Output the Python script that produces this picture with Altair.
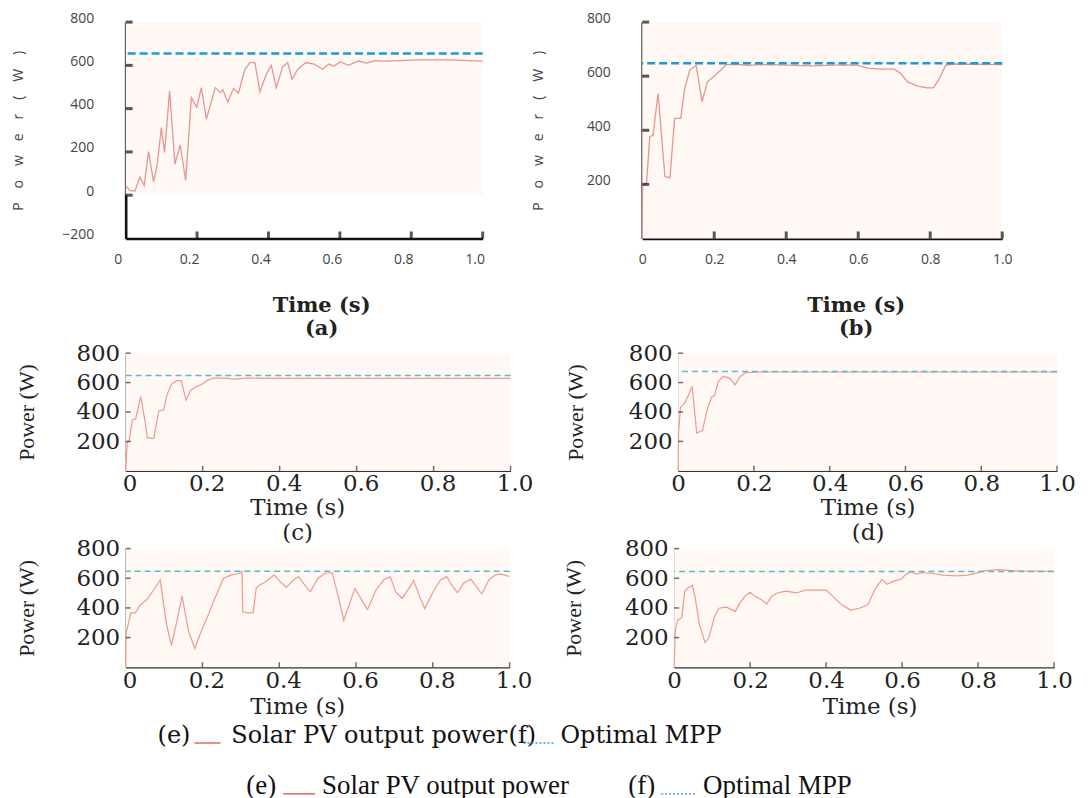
import altair as alt
import pandas as pd

# ---------------- data ----------------
t_a = [0, 0.012, 0.026, 0.04, 0.052, 0.064, 0.078, 0.088, 0.1, 0.109, 0.123, 0.138, 0.153, 0.168, 0.184,
       0.199, 0.212, 0.226, 0.238, 0.251, 0.265, 0.272, 0.286, 0.302, 0.316, 0.334, 0.348, 0.362, 0.376,
       0.394, 0.408, 0.422, 0.44, 0.454, 0.466, 0.482, 0.505, 0.528, 0.552, 0.569, 0.583, 0.601, 0.624,
       0.652, 0.675, 0.698, 0.726, 0.772, 0.818, 0.91, 1.0]
p_a = [44, 22, 19, 83, 44, 201, 63, 136, 313, 197, 482, 144, 232, 68, 451, 406, 497, 351, 421, 497, 474,
       487, 431, 493, 472, 582, 613, 613, 478, 559, 600, 497, 594, 613, 536, 582, 613, 606, 582, 606, 597,
       616, 600, 620, 610, 622, 620, 622, 625, 625, 620]

t_b = [0, 0.001, 0.012, 0.021, 0.03, 0.044, 0.063, 0.077, 0.09, 0.107, 0.118, 0.132, 0.15, 0.166, 0.181,
       0.203, 0.215, 0.234, 0.257, 0.294, 0.331, 0.377, 0.423, 0.469, 0.515, 0.561, 0.598, 0.626, 0.663,
       0.7, 0.718, 0.737, 0.765, 0.792, 0.809, 0.825, 0.843, 0.861, 0.917, 1.0]
p_b = [0, 198, 204, 376, 382, 536, 229, 225, 444, 444, 554, 622, 640, 505, 579, 603, 618, 643, 644, 640,
       643, 642, 640, 638, 640, 642, 640, 630, 626, 626, 610, 579, 563, 557, 557, 591, 640, 645, 644, 643]

t_c = [0, 0.004, 0.009, 0.017, 0.026, 0.039, 0.052, 0.056, 0.066, 0.073, 0.086, 0.099, 0.107, 0.12, 0.133,
       0.144, 0.157, 0.168, 0.181, 0.198, 0.211, 0.228, 0.262, 0.28, 0.314, 0.4, 0.6, 0.8, 1.0]
p_c = [0, 190, 200, 344, 354, 504, 313, 227, 221, 221, 407, 414, 516, 593, 613, 613, 480, 545, 569, 588,
       613, 630, 630, 624, 630, 629, 629, 629, 629]

t_d = [0, 0.001, 0.006, 0.017, 0.025, 0.037, 0.049, 0.055, 0.064, 0.077, 0.088, 0.096, 0.106, 0.119, 0.136,
       0.15, 0.164, 0.179, 0.2, 0.217, 0.3, 0.5, 0.7, 1.0]
p_d = [0, 246, 431, 459, 501, 573, 257, 264, 273, 419, 501, 513, 607, 641, 630, 584, 641, 668, 670, 672,
       672, 672, 672, 672]

t_e = [0, 0.001, 0.007, 0.013, 0.025, 0.038, 0.055, 0.073, 0.09, 0.106, 0.119, 0.132, 0.147, 0.163, 0.18,
       0.196, 0.213, 0.231, 0.255, 0.275, 0.296, 0.303, 0.305, 0.318, 0.332, 0.34, 0.349, 0.362, 0.387,
       0.402, 0.419, 0.432, 0.45, 0.466, 0.481, 0.501, 0.52, 0.538, 0.554, 0.568, 0.582, 0.597, 0.615,
       0.63, 0.652, 0.674, 0.689, 0.703, 0.72, 0.738, 0.75, 0.766, 0.779, 0.801, 0.82, 0.836, 0.849,
       0.864, 0.88, 0.899, 0.91, 0.928, 0.946, 0.963, 0.976, 1.0]
p_e = [0, 226, 294, 367, 367, 419, 457, 521, 589, 294, 147, 294, 480, 249, 125, 238, 340, 457, 600, 623,
       634, 645, 374, 367, 367, 532, 555, 571, 623, 577, 539, 577, 611, 555, 509, 600, 634, 638, 475, 317,
       419, 532, 453, 389, 521, 593, 611, 509, 464, 532, 584, 475, 396, 509, 589, 611, 555, 502, 566, 593,
       555, 494, 589, 623, 629, 612]

t_f = [0, 0.003, 0.009, 0.02, 0.028, 0.037, 0.048, 0.055, 0.066, 0.081, 0.092, 0.106, 0.118, 0.138, 0.161,
       0.173, 0.186, 0.2, 0.213, 0.23, 0.244, 0.256, 0.271, 0.294, 0.322, 0.345, 0.377, 0.4, 0.418, 0.441,
       0.464, 0.487, 0.51, 0.528, 0.547, 0.561, 0.579, 0.597, 0.611, 0.625, 0.639, 0.653, 0.68, 0.708,
       0.744, 0.772, 0.795, 0.818, 0.855, 0.892, 0.928, 1.0]
p_f = [0, 248, 317, 336, 513, 536, 552, 478, 294, 168, 202, 340, 398, 405, 375, 432, 478, 506, 478, 455,
       428, 478, 501, 513, 501, 520, 520, 520, 478, 421, 386, 398, 421, 524, 593, 559, 582, 593, 628, 644,
       628, 639, 632, 621, 616, 621, 635, 651, 658, 651, 649, 646]

mpp = {"a": 655, "b": 648, "c": 648, "d": 676, "e": 648, "f": 646}

x_ticks = [0, 0.2, 0.4, 0.6, 0.8, 1.0]
y_ticks_a = [-200, 0, 200, 400, 600, 800]
y_ticks = [200, 400, 600, 800]

panel_captions = ["(a)", "(b)", "(c)", "(d)"]
x_title = "Time (s)"
y_title_top = "P\u2003o\u2003w\u2003e\u2003r\u2003(\u2003W\u2003)"
y_title_low = "Power (W)"
legend_pv = "Solar PV output power"
legend_mpp = "Optimal MPP"

# ---------------- styles ----------------
RED_TOP = "#e6958f"
RED_LOW = "#ee9a8c"
BLUE_TOP = "#1d9ad6"
BLUE_LOW = "#56bccb"
FILL = "#fff8f4"
LABEL_EXPR = "datum.value == 0 ? '0' : format(datum.value, '.1f')"

one = pd.DataFrame({"k": [0]})


def txt(s, x, y, font, size):
    return alt.Chart(one).mark_text(text=s, align="left", baseline="middle", font=font,
                                    fontSize=size, color="#111").encode(x=alt.value(x), y=alt.value(y))


def seg(x1, x2, y, color, dash):
    return alt.Chart(one).mark_rule(color=color, strokeWidth=1.4, strokeDash=dash).encode(
        x=alt.value(x1), x2=alt.value(x2), y=alt.value(y))


def panel(t, p, m, ydom, yvals, w, h, top, title, tx, ty, lh, ytx, xlo=0, extra=None):
    xs = alt.Scale(domain=[0, 1], nice=False, zero=False)
    ys = alt.Scale(domain=ydom, nice=False, zero=False)
    if top:
        xax = alt.Axis(values=x_ticks, labelExpr=LABEL_EXPR, ticks=False, tickSize=0, grid=False,
                       domainColor="#111", domainWidth=2.6, labelFont="Open Sans", labelFontSize=14,
                       labelColor="#444", labelPadding=14, labelOffset=xlo, labelFlush=False,
                       labelOverlap=False,
                       title=title, titleFont="DejaVu Serif", titleFontWeight="bold",
                       titleFontSize=21, titleColor="#222", titleX=tx, titleY=ty, titleBaseline="top",
                       titleAlign="center", titleLineHeight=lh)
        yax = alt.Axis(values=yvals, ticks=False, tickSize=0, grid=False, domainColor="#111",
                       domainWidth=2.6, labelFont="Open Sans", labelFontSize=14, labelColor="#444",
                       labelPadding=32, labelOffset=-4, labelFlush=False, labelOverlap=False,
                       title=y_title_top, titleFont="Open Sans", titleFontSize=14, titleFontWeight="normal",
                       titleColor="#444", titleX=ytx, titleY=h / 2, titleAngle=270,
                       titleBaseline="middle", titleAlign="center")
        red, blue, lw, bw, dash = RED_TOP, BLUE_TOP, 1.3, 2.4, [8, 4]
        tlen, tthick, tcol = 7, 3, "#111"
    else:
        xax = alt.Axis(values=x_ticks, labelExpr=LABEL_EXPR, ticks=False, tickSize=0, grid=False,
                       domainColor="#333", domainWidth=1.3, labelFont="DejaVu Serif", labelFontSize=23,
                       labelColor="#222", labelPadding=2, labelOffset=xlo, labelFlush=False,
                       labelOverlap=False,
                       title=title, titleFont="DejaVu Serif", titleFontWeight="normal",
                       titleFontSize=23, titleColor="#222", titleX=tx, titleY=ty, titleBaseline="top",
                       titleAlign="center", titleLineHeight=lh)
        yax = alt.Axis(values=yvals, ticks=False, tickSize=0, grid=False, domainColor="#333",
                       domainWidth=1.3, labelFont="DejaVu Serif", labelFontSize=23, labelColor="#222",
                       labelPadding=6, labelFlush=False, labelOverlap=False,
                       title=y_title_low, titleFont="Liberation Serif", titleFontSize=22,
                       titleFontWeight="normal", titleColor="#222", titleX=ytx, titleY=h / 2,
                       titleAngle=270, titleBaseline="middle", titleAlign="center")
        red, blue, lw, bw, dash = RED_LOW, BLUE_LOW, 1.2, 1.5, [6, 4]
        tlen, tthick, tcol = 5, 1.5, "#333"

    X = alt.X("t:Q", scale=xs, axis=xax)
    Y = alt.Y("p:Q", scale=ys, axis=yax)

    bg = alt.Chart(pd.DataFrame({"t": [0], "t2": [1], "p": [0], "p2": [ydom[1]]})).mark_rect(
        color=FILL).encode(x=X, x2="t2", y=Y, y2="p2")
    line = alt.Chart(pd.DataFrame({"t": t, "p": p})).mark_line(
        color=red, strokeWidth=lw).encode(x=X, y=Y)
    rule = alt.Chart(pd.DataFrame({"p": [m]})).mark_rule(
        color=blue, strokeWidth=bw, strokeDash=dash).encode(y=Y)
    yt = alt.Chart(pd.DataFrame({"p": [v for v in yvals if v > ydom[0]]})).mark_tick(
        orient="horizontal", size=tlen, thickness=tthick, color=tcol).encode(
        y=Y, x=alt.value(tlen / 2))
    xt = alt.Chart(pd.DataFrame({"t": x_ticks[1:]})).mark_tick(
        orient="vertical", size=tlen, thickness=tthick, color=tcol).encode(
        x=X, y=alt.value(h - tlen / 2))
    layers = [bg, line, rule, yt, xt] + (extra or [])
    return alt.layer(*layers).properties(width=w, height=h)


# caption / legend lines, drawn under panel (e) (positions relative to its plot area)
F1, S1 = "DejaVu Serif", 24
F2, S2 = "Liberation Serif", 27
legend_layers = [
    txt("(e)", 32, 188, F1, S1), seg(69, 95, 195, "#e06a5c", [1, 0]), txt(legend_pv, 106, 188, F1, S1),
    txt("(f)", 384, 188, F1, S1), seg(399, 430, 195, "#3b9ad8", [2, 2]), txt(legend_mpp, 436, 188, F1, S1),
    txt("(e)", 121, 238, F2, S2), seg(158, 190, 246, "#d9473a", [1, 0]), txt(legend_pv, 197, 238, F2, S2),
    txt("(f)", 504, 238, F2, S2), seg(537, 573, 246, "#2f8fd8", [2, 2]), txt(legend_mpp, 579, 238, F2, S2),
]

pa = panel(t_a, p_a, mpp["a"], [-200, 800], y_ticks_a, 358, 217, True,
           [x_title, panel_captions[0]], 196, 56, 23, -107, xlo=-8)
pb = panel(t_b, p_b, mpp["b"], [0, 800], y_ticks, 361, 217, True,
           [x_title, panel_captions[1]], 214, 56, 23, -104)
pc = panel(t_c, p_c, mpp["c"], [0, 800], y_ticks, 386, 118, False,
           [x_title, panel_captions[2]], 172, 26, 25, -99, xlo=4)
pd_ = panel(t_d, p_d, mpp["d"], [0, 800], y_ticks, 380, 118, False,
            [x_title, panel_captions[3]], 190, 26, 25, -103)
pe = panel(t_e, p_e, mpp["e"], [0, 800], y_ticks, 385, 119, False, x_title, 172, 28, 25, -99, xlo=4,
           extra=legend_layers)
pf = panel(t_f, p_f, mpp["f"], [0, 800], y_ticks, 381, 119, False, x_title, 196, 28, 25, -101)

row1 = alt.hconcat(pa, pb, spacing=160, bounds="flush")
row2 = alt.hconcat(pc, pd_, spacing=168, bounds="flush")
row3 = alt.hconcat(pe, pf, spacing=165, bounds="flush")
lower = alt.vconcat(row2, row3, spacing=-7)
chart = alt.vconcat(row1, lower, spacing=4).properties(
    padding={"left": 4, "top": 2, "right": 4, "bottom": 4},
    background="white",
).configure_view(stroke=None)

chart.save("out.html", embed_options={"renderer": "svg", "actions": False})
